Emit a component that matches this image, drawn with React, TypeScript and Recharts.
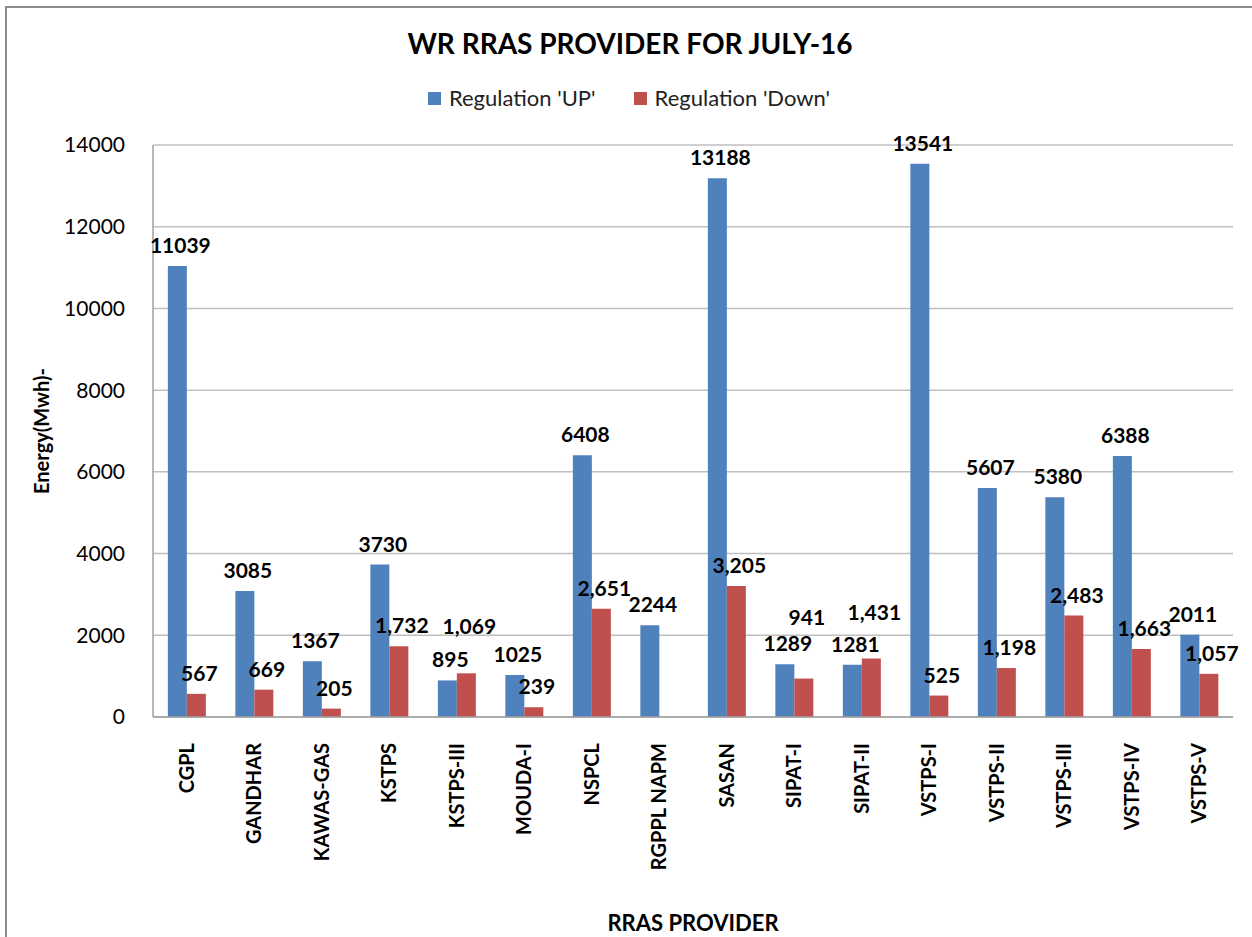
import React from 'react'
import { BarChart, Bar, XAxis, YAxis, CartesianGrid, LabelList, Label } from 'recharts'

const providers = [
  'CGPL', 'GANDHAR', 'KAWAS-GAS', 'KSTPS', 'KSTPS-III', 'MOUDA-I', 'NSPCL', 'RGPPL NAPM',
  'SASAN', 'SIPAT-I', 'SIPAT-II', 'VSTPS-I', 'VSTPS-II', 'VSTPS-III', 'VSTPS-IV', 'VSTPS-V',
]
const regulationUp = [11039, 3085, 1367, 3730, 895, 1025, 6408, 2244, 13188, 1289, 1281, 13541, 5607, 5380, 6388, 2011]
const regulationDown = [567, 669, 205, 1732, 1069, 239, 2651, null, 3205, 941, 1431, 525, 1198, 2483, 1663, 1057]
const yTicks = [0, 2000, 4000, 6000, 8000, 10000, 12000, 14000]

const BLUE = '#4F81BD'
const RED = '#C0504D'
const FONT = 'Lato, "Open Sans", sans-serif'

const data = providers.map((name, i) => ({
  name,
  up: regulationUp[i],
  down: regulationDown[i],
}))

const XTick = ({ x, y, payload }: any) => (
  <g transform={`translate(${x},${y + 18})`}>
    <text
      transform="rotate(-90)"
      textAnchor="end"
      dy="0.36em"
      fill="#000"
      fontSize={20}
      fontWeight="bold"
      fontFamily={FONT}
    >
      {payload.value}
    </text>
  </g>
)

const labelText = (x: number, y: number, text: string) => (
  <text x={x} y={y} textAnchor="middle" fill="#000" fontSize={21} fontWeight="bold" fontFamily={FONT}>
    {text}
  </text>
)

const UpLabel = (props: any) => {
  const { x, y, width, value } = props
  if (value == null) return null
  return labelText(x + width / 2 + 3, y - 13, String(value))
}

// down labels get the whole row; if the blue bar beside is about as tall, lift the label above the blue one
const DownLabel = (props: any) => {
  const { x, y, width, height, value } = props
  if (!value || !value.down) return null
  const pxPerUnit = height / value.down
  const upTop = y + height - value.up * pxPerUnit
  let ly = y - 13
  if (Math.abs(upTop - y) < 30) ly = Math.min(upTop, y) - 13 - 26
  return labelText(x + width / 2 + 3, ly, Number(value.down).toLocaleString('en-US'))
}

const legendItems = [
  { label: "Regulation 'UP'", color: BLUE },
  { label: "Regulation 'Down'", color: RED },
]

export default function App() {
  return (
    <div style={{ position: 'absolute', left: 0, top: 0, width: 1252, height: 937, background: '#fff', overflow: 'hidden' }}>
      <div
        style={{
          position: 'absolute', left: 5, top: 6, width: 1400, height: 1100,
          borderLeft: '2px solid #8c8c8c', borderTop: '2px solid #8c8c8c',
        }}
      />
      <div
        style={{
          position: 'absolute', left: 0, top: 26, width: 1260, textAlign: 'center',
          fontFamily: FONT, fontWeight: 'bold', fontSize: 28, color: '#000',
        }}
      >
        WR RRAS PROVIDER FOR JULY-16
      </div>
      <div
        style={{
          position: 'absolute', left: 0, top: 84, width: 1258, display: 'flex', justifyContent: 'center',
          gap: 38, fontFamily: FONT, fontSize: 22, color: '#222', lineHeight: '28px',
        }}
      >
        {legendItems.map((item) => (
          <div key={item.label} style={{ display: 'flex', alignItems: 'center' }}>
            <span style={{ display: 'inline-block', width: 13, height: 13, background: item.color, marginRight: 8 }} />
            {item.label}
          </div>
        ))}
      </div>
      <div style={{ position: 'absolute', left: 0, top: 0 }}>
        <BarChart
          width={1252}
          height={937}
          data={data}
          margin={{ top: 145, right: 19, left: 0, bottom: 0 }}
          barCategoryGap="22%"
          barGap={0}
        >
          <CartesianGrid vertical={false} stroke="#bfbfbf" strokeWidth={1.5} />
          <XAxis
            dataKey="name"
            interval={0}
            height={220}
            tickLine={false}
            axisLine={{ stroke: '#a0a0a0', strokeWidth: 1.5 }}
            tick={<XTick />}
          >
            <Label
              value="RRAS PROVIDER"
              position="insideBottom"
              offset={6}
              style={{ fontFamily: FONT, fontWeight: 'bold', fontSize: 22, fill: '#000' }}
            />
          </XAxis>
          <YAxis
            width={153}
            domain={[0, 14000]}
            ticks={yTicks}
            interval={0}
            tickLine={false}
            axisLine={{ stroke: '#a0a0a0', strokeWidth: 1.5 }}
            tickMargin={22}
            tick={{ fill: '#000', fontSize: 21, fontFamily: FONT }}
          >
            <Label
              value="Energy(Mwh)-"
              angle={-90}
              position="insideLeft"
              offset={42}
              style={{ textAnchor: 'middle', fontFamily: FONT, fontWeight: 'bold', fontSize: 20, fill: '#000' }}
            />
          </YAxis>
          <Bar dataKey="up" name="Regulation 'UP'" fill={BLUE} isAnimationActive={false}>
            <LabelList dataKey="up" content={<UpLabel />} />
          </Bar>
          <Bar dataKey="down" name="Regulation 'Down'" fill={RED} isAnimationActive={false}>
            <LabelList dataKey={(d: any) => d} content={<DownLabel />} />
          </Bar>
        </BarChart>
      </div>
    </div>
  )
}
